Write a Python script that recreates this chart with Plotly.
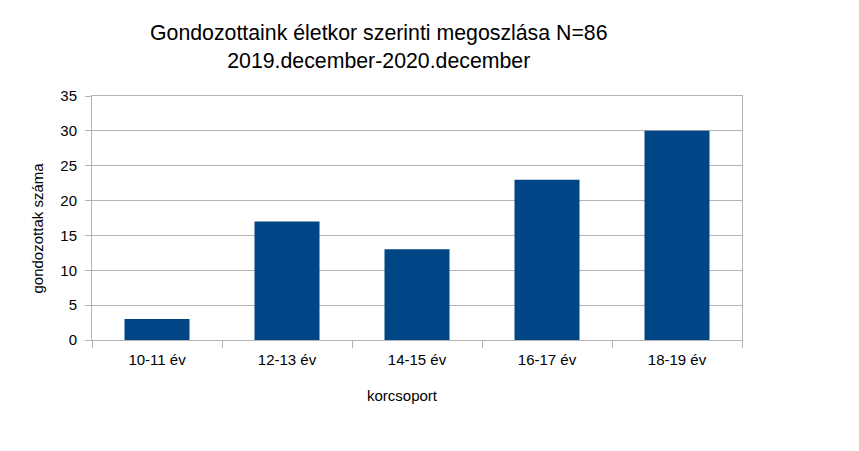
import plotly.graph_objects as go

categories = ["10-11 év", "12-13 év", "14-15 év", "16-17 év", "18-19 év"]
values = [3, 17, 13, 23, 30]
y_ticks = [0, 5, 10, 15, 20, 25, 30, 35]

# page has an 8px body margin; work in page pixels and convert
OFF = 8
PW, PH = 859, 451
W, H = PW - OFF, PH - OFF
L, R, T, B = 92, 742, 96, 340  # plot area in page pixels

def px_x(x):
    return (x - L) / (R - L)

def px_y(y):
    return (B - y) / (B - T)

fig = go.Figure(go.Bar(x=categories, y=values, marker_color="#004586",
                       marker_line_width=0, width=0.5))

font = "Liberation Sans, Arial, sans-serif"
grid = "#b3b3b3"
fig.update_layout(
    width=W, height=H,
    margin=dict(l=L - OFF, r=W - (R - OFF), t=T - OFF, b=H - (B - OFF), pad=0),
    paper_bgcolor="white", plot_bgcolor="white",
    font=dict(family=font, size=15, color="#000000"),
    showlegend=False,
)
fig.add_annotation(text="Gondozottaink életkor szerinti megoszlása N=86<br>2019.december-2020.december",
                   x=px_x(378.5), y=px_y(47), xref="paper", yref="paper",
                   showarrow=False, xanchor="center", yanchor="middle",
                   font=dict(size=21.3, family=font))
fig.add_annotation(text="korcsoport", x=px_x(402), y=px_y(395),
                   xref="paper", yref="paper", showarrow=False,
                   xanchor="center", yanchor="middle", font=dict(size=15, family=font))
fig.add_annotation(text="gondozottak száma", x=px_x(37.5), y=px_y(228),
                   xref="paper", yref="paper", showarrow=False, textangle=-90,
                   xanchor="center", yanchor="middle", font=dict(size=15, family=font))

fig.update_xaxes(showline=True, linecolor=grid, linewidth=1, mirror=True,
                 ticks="outside", tickson="boundaries", ticklen=7, tickcolor=grid,
                 showgrid=False, tickfont=dict(size=15), ticklabelstandoff=6)
fig.update_yaxes(range=[0, 35], tickvals=y_ticks, showline=True, linecolor=grid,
                 linewidth=1, mirror=True, ticks="outside", ticklen=6, tickcolor=grid,
                 showgrid=True, gridcolor=grid, gridwidth=1, zeroline=False,
                 tickfont=dict(size=15), ticklabelstandoff=5)

fig.write_html("out.html")
